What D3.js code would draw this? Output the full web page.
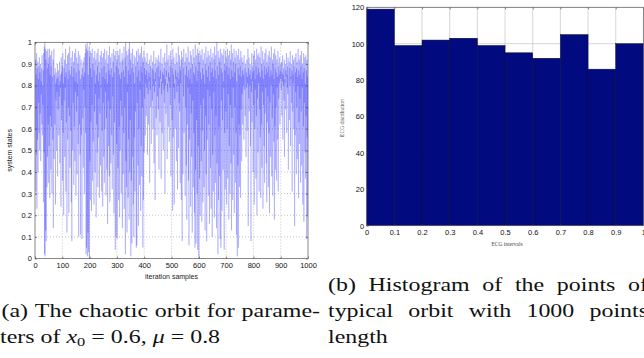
<!DOCTYPE html>
<html><head><meta charset="utf-8">
<script src="https://cdn.jsdelivr.net/npm/d3@7"></script>
<style>body{margin:0;background:#fff} svg{display:block}</style>
</head><body><svg id="c" width="644" height="358"></svg>
<script>
const orbitValues = [
.60,.92,.31,.85,.48,.95,.23,.88,.55,.91,.40,.83,.72,.89,.58,.93,.50,.86,.67,.90,.45,.82,.76,.88,.62,.94,.57,.80,.71,.87,
.26,.95,.49,.98,.02,1.0,.01,.97,.13,.92,.08,.75,.96,.33,.88,.47,.97,.62,.90,.35,
.93,.52,.97,.28,.85,.66,.94,.41,.89,.61,.96,.30,.79,.84,.55,.92,.14,.70,.97,.46,.85,.78,.62,.88,.25,.81,.73,.86,.50,.83,
.77,.90,.38,.84,.69,.87,.57,.80,.75,.91,.44,.82,.79,.85,.24,.93,.64,.86,.71,.89,
.36,.95,.58,.81,.20,.88,.73,.92,.47,.84,.79,.97,.31,.86,.63,.90,.12,.76,.94,.55,.83,.70,.95,.21,.87,.66,.98,.42,.80,.85,
.59,.93,.26,.89,.08,.78,.96,.50,.84,.72,.91,.34,.88,.61,.95,.45,.82,.77,.97,.29,
.86,.68,.93,.39,.81,.75,.90,.53,.96,.10,.74,.87,.62,.94,.48,.83,.11,.79,.92,.57,.85,.09,.72,.88,.65,.91,.42,.84,.78,.93,
.30,.86,.70,.95,.58,.99,.02,.97,.05,.90,1.0,.01,.96,.12,.85,.03,.80,.98,.00,.93,
.45,.96,.27,.88,.63,.95,.22,.84,.71,.97,.36,.90,.54,.83,.93,.25,.87,.68,.96,.40,.81,.76,.92,.19,.85,.62,.95,.49,.89,.33,
.97,.56,.82,.74,.91,.28,.86,.67,.94,.43,.80,.79,.96,.31,.88,.59,.93,.24,.84,.72,
.95,.47,.89,.35,.97,.60,.83,.77,.92,.29,.86,.65,.96,.41,.81,.16,.90,.73,.94,.52,.87,.38,.98,.26,.85,.69,.93,.44,.80,.88,
.57,.95,.32,.84,.75,.91,.48,.97,.21,.86,.63,.94,.36,.04,.82,.96,.10,.89,.53,.92,
.09,.78,.96,.42,.88,.27,.94,.61,.85,.19,.97,.50,.83,.73,.91,.30,.86,.66,.95,.14,.80,.92,.39,.87,.58,.98,.23,.84,.70,.93,
.02,1.0,.45,.89,.33,.96,.12,.81,.77,.94,.28,.87,.55,.97,.18,1.0,.40,.85,.64,.92,
.01,.95,.36,.88,.07,.83,.97,.47,.90,.25,.86,.10,.94,.56,.81,.31,.93,.68,.89,.20,.05,.96,.06,.84,.72,.91,.43,.97,.15,.87,
.60,.94,.34,.82,.78,.95,.22,.89,.52,.98,.38,.86,.70,.93,.05,.91,.27,.85,.96,.49,
.88,.74,.93,.57,.85,.81,.91,.66,.87,.79,.95,.48,.83,.76,.90,.62,.86,.82,.92,.35,.84,.78,.89,.70,.94,.53,.81,.85,.88,.73,
.91,.60,.87,.80,.96,.44,.83,.77,.90,.27,.86,.82,.93,.65,.80,.88,.57,.92,.75,.85,
.89,.69,.94,.41,.84,.79,.91,.63,.87,.83,.97,.37,.82,.76,.90,.58,.86,.81,.93,.50,.85,.78,.88,.72,.95,.30,.83,.80,.91,.67,
.87,.84,.99,.46,.81,.77,.92,.61,.86,.82,.94,.54,.84,.79,.89,.71,.96,.38,.83,.86,
.92,.64,.88,.22,.97,.56,.85,.79,.93,.25,.81,.74,.90,.60,.87,.83,.95,.45,.84,.77,.91,.32,.86,.80,.98,.51,.83,.72,.94,.68,
.89,.35,.87,.81,.92,.27,.96,.49,.08,.84,.93,.39,.88,.75,.97,.58,.82,.86,.91,.29,
.85,.70,.95,.43,.89,.18,.93,.62,.84,.79,.98,.36,.87,.06,.91,.55,.83,.76,.96,.24,.88,.67,.94,.47,.81,.12,.90,.73,.97,.33,
.86,.58,.93,.21,.85,.05,.99,.41,.89,.07,.94,.64,.82,.30,.97,.04,.87,.52,.95,.03,
.00,.91,.37,.96,.20,.86,.71,.94,.45,.83,.17,.97,.59,.88,.26,.92,.74,.85,.33,.95,.50,.81,.13,.90,.66,.98,.39,.87,.08,.93,
.55,.84,.78,.96,.29,.89,.62,.94,.16,.82,.75,.91,.42,.97,.23,.86,.69,.93,.10,.88,
.48,.95,.31,.84,.77,.92,.19,.98,.57,.87,.35,.94,.66,.83,.14,1.0,.44,.89,.72,.02,.96,.27,.85,.61,.93,.38,.91,.09,.97,.53,
.05,.88,.73,.95,.22,.86,.64,.94,.41,.82,.79,.97,.04,.90,.58,.87,.32,.96,.68,.84,
.93,.25,.89,.60,.97,.37,.85,.76,.94,.18,.88,.52,.96,.30,.83,.71,.92,.44,.99,.13,.87,.65,.95,.27,.84,.79,.91,.48,.97,.21,
.86,.70,.93,.35,.90,.58,.96,.11,.82,.74,.01,.94,.43,.88,.05,.97,.62,.85,.33,.92,
.57,.89,.28,.96,.69,.84,.45,.93,.76,.87,.62,.91,.80,.85,.55,.94,.78,.82,.88,.66,.90,.83,.47,.86,.79,.92,.59,.84,.81,.97,
.15,.88,.74,.93,.68,.85,.80,.90,.52,.87,.08,.83,.77,.95,.63,.89,.82,.86,.40,.94,
.71,.87,.25,.96,.60,.83,.78,.92,.37,.89,.66,.97,.20,.85,.74,.94,.49,.88,.81,.95,.31,.86,.69,.93,.56,.84,.28,.98,.62,.90,
.42,.87,.77,.96,.23,.83,.71,.92,.52,.89,.35,.95,.67,.85,.79,.97,.44,.88,.26,.91,
.63,.86,.75,.94,.33,.89,.58,.96,.21,.84,.72,.93,.47,.87,.80,.98,.38,.85,.65,.92,.29,.90,.76,.95,.54,.83,.18,.97,.61,.88,
.41,.94,.70,.86,.36,.92,.79,.84,.55,.96,.31,.89,.74,.85,.81,.93,.62,.87,.83,.90,
.84,.78,.91,.66,.86,.82,.94,.55,.85,.80,.88,.73,.92,.47,.83,.81,.90,.69,.87,.84,.95,.58,.85,.79,.89,.76,.93,.41,.82,.86,
.91,.64,.88,.80,.96,.52,.84,.83,.90,.72,.87,.31,.94,.68,.85,.81,.92,.60,.89,.83,
.15,.93,.57,.86,.77,.95,.39,.88,.70,.91,.46,.84,.80,.97,.28,.87,.63,.92,.53,.85,.74,.94,.35,.89,.68,.96,.43,.83,.79,.90,
.25,.86,.61,.95,.17,.88,.72,.93,.49,.81,.37,.94,.66,.87,.09,.92,.56,.84,.20,.90
];
const binStarts = [0,0.1,0.2,0.3,0.4,0.5,0.6,0.7,0.8,0.9];
const binCounts = [119,99,102,103,99,95,92,105,86,100];
const binWidth = 0.1;
const leftXTicks = [0,100,200,300,400,500,600,700,800,900,1000];
const leftYTicks = [0,0.1,0.2,0.3,0.4,0.5,0.6,0.7,0.8,0.9,1];
const rightXTicks = [0,0.1,0.2,0.3,0.4,0.5,0.6,0.7,0.8,0.9,1];
const rightYTicks = [0,20,40,60,80,100,120];

const svg = d3.select('#c');
const sans = '"Liberation Sans", Arial, Helvetica, sans-serif';
const serif = '"Liberation Serif", "Times New Roman", serif';
const tickFont = 7.5;

// ---------- Left: chaotic orbit ----------
const xL = d3.scaleLinear().domain([0,1000]).range([35,308]);
const yL = d3.scaleLinear().domain([0,1]).range([258.5,42.3]);
const gL = svg.append('g');
gL.selectAll('.gx').data(leftXTicks.slice(1,-1)).join('line')
  .attr('x1',d=>xL(d)).attr('x2',d=>xL(d)).attr('y1',yL(0)).attr('y2',yL(1))
  .attr('stroke','#999').attr('stroke-width',0.6).attr('stroke-dasharray','1,2');
gL.selectAll('.gy').data(leftYTicks.slice(1,-1)).join('line')
  .attr('x1',xL(0)).attr('x2',xL(1000)).attr('y1',d=>yL(d)).attr('y2',d=>yL(d))
  .attr('stroke','#999').attr('stroke-width',0.6).attr('stroke-dasharray','1,2');
gL.append('defs').append('clipPath').attr('id','clipL').append('rect')
  .attr('x',xL(0)).attr('y',yL(1)-1).attr('width',xL(1000)-xL(0)).attr('height',yL(0)-yL(1)+2);
const line = d3.line().x((d,i)=>xL(i+1)).y(d=>yL(d));
gL.append('path').datum(orbitValues).attr('d',line).attr('clip-path','url(#clipL)')
  .attr('fill','none').attr('stroke','#3030ff').attr('stroke-width',0.38).attr('stroke-opacity',0.6);
const axL = d3.axisBottom(xL).tickValues(leftXTicks).tickSize(-2).tickPadding(4.3).tickFormat(d3.format('d'));
gL.append('g').attr('transform',`translate(0,${yL(0)})`).call(axL);
const ayL = d3.axisLeft(yL).tickValues(leftYTicks).tickSize(-2).tickPadding(3).tickFormat(d=>d===0||d===1?String(d):d3.format('.1f')(d));
gL.append('g').attr('transform',`translate(${xL(0)},0)`).call(ayL);
gL.append('g').attr('transform',`translate(0,${yL(1)})`).call(d3.axisTop(xL).tickValues(leftXTicks).tickSize(-2).tickFormat(''));
gL.append('g').attr('transform',`translate(${xL(1000)},0)`).call(d3.axisRight(yL).tickValues(leftYTicks).tickSize(-2).tickFormat(''));
gL.selectAll('.domain').remove();
gL.selectAll('.tick line').attr('stroke','#333').attr('stroke-width',0.6);
gL.selectAll('.tick text').attr('font-family',sans).attr('font-size',tickFont).attr('fill','#111');
gL.append('rect').attr('x',xL(0)).attr('y',yL(1)).attr('width',xL(1000)-xL(0)).attr('height',yL(0)-yL(1))
  .attr('fill','none').attr('stroke','#555').attr('stroke-width',0.7);
gL.append('text').attr('x',(xL(0)+xL(1000))/2).attr('y',279).attr('text-anchor','middle')
  .attr('font-family',sans).attr('font-size',7).attr('fill','#222').text('iteration samples');
gL.append('text').attr('transform',`translate(12,${(yL(0)+yL(1))/2}) rotate(-90)`).attr('text-anchor','middle')
  .attr('font-family',sans).attr('font-size',7).attr('fill','#222').text('system states');

// ---------- Right: histogram ----------
const xR = d3.scaleLinear().domain([0,1]).range([366.7,643.4]);
const yR = d3.scaleLinear().domain([0,120]).range([225.7,7.3]);
const gR = svg.append('g');
gR.selectAll('.gx').data(rightXTicks.slice(1)).join('line')
  .attr('x1',d=>xR(d)).attr('x2',d=>xR(d)).attr('y1',yR(0)).attr('y2',yR(120))
  .attr('stroke','#bbb').attr('stroke-width',0.6);
gR.selectAll('.gy').data(rightYTicks.slice(1)).join('line')
  .attr('x1',xR(0)).attr('x2',xR(1)).attr('y1',d=>yR(d)).attr('y2',d=>yR(d))
  .attr('stroke','#bbb').attr('stroke-width',0.6);
gR.selectAll('rect.bar').data(binStarts).join('rect').attr('class','bar')
  .attr('x',d=>xR(d)).attr('width',d=>xR(d+binWidth)-xR(d))
  .attr('y',(d,i)=>yR(binCounts[i])).attr('height',(d,i)=>yR(0)-yR(binCounts[i]))
  .attr('fill','#020a80').attr('stroke','#0a0a30').attr('stroke-width',0.5);
const axR = d3.axisBottom(xR).tickValues(rightXTicks).tickSize(-2).tickPadding(4.1).tickFormat(d=>d===0||d===1?String(d):d3.format('.1f')(d));
gR.append('g').attr('transform',`translate(0,${yR(0)})`).call(axR);
const ayR = d3.axisLeft(yR).tickValues(rightYTicks).tickSize(-2).tickPadding(2.5).tickFormat(d3.format('d'));
gR.append('g').attr('transform',`translate(${xR(0)},0)`).call(ayR);
gR.append('g').attr('transform',`translate(0,${yR(120)})`).call(d3.axisTop(xR).tickValues(rightXTicks).tickSize(-2).tickFormat(''));
gR.selectAll('.domain').remove();
gR.selectAll('.tick line').attr('stroke','#333').attr('stroke-width',0.6);
gR.selectAll('.tick text').attr('font-family',sans).attr('font-size',tickFont).attr('fill','#111');
gR.append('rect').attr('x',xR(0)).attr('y',yR(120)).attr('width',xR(1)-xR(0)).attr('height',yR(0)-yR(120))
  .attr('fill','none').attr('stroke','#666').attr('stroke-width',0.7);
gR.append('text').attr('x',(xR(0)+xR(1))/2+2).attr('y',245.5).attr('text-anchor','middle')
  .attr('font-family',serif).attr('font-size',5.5).attr('fill','#444').text('ECG intervals');
gR.append('text').attr('transform',`translate(344,118) rotate(-90)`).attr('text-anchor','middle')
  .attr('font-family',serif).attr('font-size',5.5).attr('fill','#444').text('ECG distribution');

// ---------- Captions ----------
const capSize = 19;
const sx = 1.26;
function capGroup(x) { return svg.append('g').attr('transform',`translate(${x},0) scale(${sx},1)`); }
function justify(words, x, y, width) {
  const g = capGroup(x);
  const ts = words.map(w => g.append('text').attr('y',y).attr('font-family',serif)
      .attr('font-size',capSize).attr('fill','#111').text(w));
  const ws = ts.map(t => t.node().getComputedTextLength());
  const gap = (width / sx - d3.sum(ws)) / (words.length - 1);
  let cx = 0;
  ts.forEach((t,i) => { t.attr('x',cx); cx += ws[i] + gap; });
}
justify(['(a)','The','chaotic','orbit','for','parame-'], 1.5, 317, 318.5);
const t2 = capGroup(0).append('text').attr('x',0).attr('y',343).attr('font-family',serif)
  .attr('font-size',capSize).attr('fill','#111');
t2.append('tspan').text('ters of ');
t2.append('tspan').attr('font-style','italic').text('x');
t2.append('tspan').attr('font-size',13).attr('dy',3).text('0');
t2.append('tspan').attr('dy',-3).text(' = 0.6, ');
t2.append('tspan').attr('font-style','italic').text('μ');
t2.append('tspan').text(' = 0.8');
justify(['(b)','Histogram','of','the','points','of'], 328, 291.5, 320);
justify(['typical','orbit','with','1000','points'], 328, 317, 320);
capGroup(328).append('text').attr('x',0).attr('y',343).attr('font-family',serif)
  .attr('font-size',capSize).attr('fill','#111').text('length');
</script></body></html>
